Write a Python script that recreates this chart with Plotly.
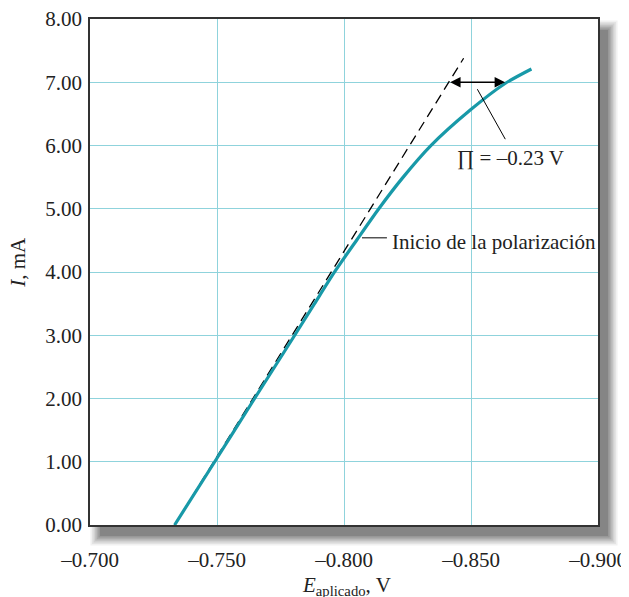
import plotly.graph_objects as go

# Data
curve_E = [-0.7333, -0.7491, -0.7648, -0.7806, -0.7884, -0.7961, -0.8051, -0.8137, -0.8229, -0.8340, -0.8497, -0.8634, -0.8738]
curve_I = [0.0, 1.0, 2.0, 3.0, 3.5, 3.99, 4.51, 5.0, 5.48, 5.99, 6.56, 6.98, 7.21]
tangent_E = [-0.7333, -0.8471]
tangent_I = [0.0, 7.38]
x_ticks = [-0.700, -0.750, -0.800, -0.850, -0.900]
x_ticklabels = ["\u20130.700", "\u20130.750", "\u20130.800", "\u20130.850", "\u20130.900"]
y_ticks = [0, 1, 2, 3, 4, 5, 6, 7, 8]
y_ticklabels = ["0.00", "1.00", "2.00", "3.00", "4.00", "5.00", "6.00", "7.00", "8.00"]

FONT = "Liberation Serif"
FS = 21
GRID = "#8fd3dc"
TEAL = "#1899a8"
TXT = "#222"

fig = go.Figure()
fig.add_trace(go.Scatter(x=tangent_E, y=tangent_I, mode="lines",
                         line=dict(color="black", width=1.3, dash="10px,6px"),
                         hoverinfo="skip", showlegend=False))
fig.add_trace(go.Scatter(x=curve_E, y=curve_I, mode="lines",
                         line=dict(color=TEAL, width=3.2, shape="spline", smoothing=0.7),
                         hoverinfo="skip", showlegend=False))

shapes = []
# drop shadow (paper coords), plot area 508 x 506 px
W, H = 508.0, 506.0
for i, op in enumerate([0.07, 0.08, 0.10, 0.12, 0.14, 0.17, 0.20]):
    grow = (6 - i) * 1.6
    ox, oy = 10.0, 11.0
    shapes.append(dict(type="rect", xref="paper", yref="paper", layer="below",
                       x0=(ox - grow) / W, x1=1 + (ox + grow) / W,
                       y0=-(oy + grow) / H, y1=1 - (oy - grow) / H,
                       line=dict(width=0), fillcolor="rgba(60,60,60,%.3f)" % op))
shapes.append(dict(type="rect", xref="paper", yref="paper", layer="below",
                   x0=0, x1=1, y0=0, y1=1, line=dict(width=0), fillcolor="white"))
# leader lines
shapes.append(dict(type="line", xref="x", yref="y", x0=-0.8071, x1=-0.8169, y0=4.54, y1=4.54,
                   line=dict(color="black", width=1)))
shapes.append(dict(type="line", xref="x", yref="y", x0=-0.8525, x1=-0.8635, y0=6.89, y1=6.10,
                   line=dict(color="black", width=1)))

annotations = [
    dict(x=-0.8182, y=4.47, xref="x", yref="y", text="Inicio de la polarización",
         showarrow=False, xanchor="left", yanchor="middle",
         font=dict(family=FONT, size=FS, color=TXT)),
    dict(x=-0.8437, y=5.80, xref="x", yref="y", text="\u220f = \u20130.23 V",
         showarrow=False, xanchor="left", yanchor="middle",
         font=dict(family=FONT, size=FS, color=TXT)),
    dict(x=-0.8634, y=7.0, ax=-0.8412, ay=7.0, xref="x", yref="y", axref="x", ayref="y",
         text="", showarrow=True, arrowhead=2, arrowside="end+start", arrowsize=1.3,
         arrowwidth=1.6, arrowcolor="black", standoff=0, startstandoff=0),
    dict(x=0.505, y=-0.12, xref="paper", yref="paper",
         text="<i>E</i><sub>aplicado</sub>, V", showarrow=False,
         xanchor="center", yanchor="middle",
         font=dict(family=FONT, size=FS, color=TXT)),
    dict(x=-0.142, y=0.52, xref="paper", yref="paper",
         text="<i>I</i>, mA", showarrow=False, textangle=-90,
         xanchor="center", yanchor="middle",
         font=dict(family=FONT, size=FS, color=TXT)),
]

# page body has an 8px margin: figure is offset by 8px
fig.update_layout(
    width=621, height=589,
    margin=dict(l=82, r=31, t=11, b=72),
    paper_bgcolor="white", plot_bgcolor="rgba(0,0,0,0)",
    shapes=shapes, annotations=annotations,
    font=dict(family=FONT, size=FS, color=TXT),
    showlegend=False,
)
fig.update_xaxes(range=[-0.700, -0.900], tickvals=x_ticks, ticktext=x_ticklabels,
                 showgrid=True, gridcolor=GRID, gridwidth=1.3, zeroline=False,
                 showline=True, linecolor="#333", linewidth=1.8, mirror=True,
                 ticks="", ticklabelstandoff=15, automargin=False,
                 ticklabeloverflow="allow",
                 tickfont=dict(family=FONT, size=FS, color=TXT))
fig.update_yaxes(range=[0, 8], tickvals=y_ticks, ticktext=y_ticklabels,
                 showgrid=True, gridcolor=GRID, gridwidth=1.3, zeroline=False,
                 showline=True, linecolor="#333", linewidth=1.8, mirror=True,
                 ticks="", ticklabelstandoff=2, automargin=False,
                 ticklabeloverflow="allow",
                 tickfont=dict(family=FONT, size=FS, color=TXT))

fig.write_html("out.html")
